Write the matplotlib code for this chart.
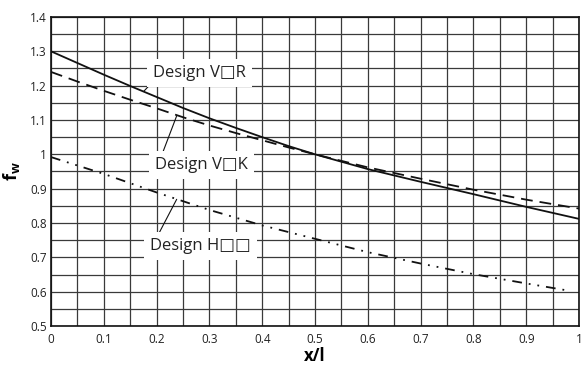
import numpy as np
import matplotlib
matplotlib.use('Agg')
import matplotlib.pyplot as plt

plt.rcParams['font.family'] = ['Open Sans', 'DejaVu Sans']
plt.rcParams['mathtext.fontset'] = 'custom'
plt.rcParams['mathtext.bf'] = 'Open Sans:bold'
plt.rcParams['lines.scale_dashes'] = False

# values (x/l against f_w)
x_vr = [0, 0.05, 0.1, 0.15, 0.2, 0.25, 0.3, 0.35, 0.4, 0.45, 0.5, 0.6, 0.7, 0.8, 0.9, 1.0]
f_vr = [1.300, 1.266, 1.232, 1.199, 1.167, 1.135, 1.105, 1.077, 1.050, 1.024, 1.0,
        0.957, 0.920, 0.884, 0.847, 0.812]

x_vk = [0, 0.05, 0.1, 0.15, 0.2, 0.25, 0.3, 0.35, 0.4, 0.45, 0.5, 0.6, 0.7, 0.8, 0.9, 1.0]
f_vk = [1.240, 1.212, 1.185, 1.159, 1.134, 1.108, 1.084, 1.062, 1.041, 1.020, 1.0,
        0.962, 0.929, 0.897, 0.868, 0.842]

x_h = [0, 0.1, 0.2, 0.3, 0.4, 0.5, 0.6, 0.7, 0.8, 0.9, 0.98]
f_h = [0.992, 0.943, 0.889, 0.838, 0.793, 0.754, 0.715, 0.682, 0.651, 0.624, 0.603]

labels = ['Design V\u25a1R', 'Design V\u25a1K', 'Design H\u25a1\u25a1']
# where the leader touches the curve, and where the label sits
label_xy = [(0.176, 1.184), (0.238, 1.112), (0.238, 0.869)]
label_text_xy = [(0.193, 1.237), (0.197, 0.968), (0.1875, 0.733)]
label_relpos = [(0.03, 0.15), (0.06, 0.95), (0.06, 0.95)]

xticks = np.arange(0, 1.01, 0.1)
xtick_labels = ['0', '0.1', '0.2', '0.3', '0.4', '0.5', '0.6', '0.7', '0.8', '0.9', '1']
yticks = np.arange(0.5, 1.41, 0.1)
ytick_labels = ['0.5', '0.6', '0.7', '0.8', '0.9', '1', '1.1', '1.2', '1.3', '1.4']

fig = plt.figure(figsize=(5.87, 3.67), dpi=100)
ax = fig.add_axes([0.0869, 0.1117, 0.8995, 0.842])

# grid every 0.05 in both directions
ax.set_xticks(np.arange(0, 1.001, 0.05), minor=True)
ax.set_yticks(np.arange(0.5, 1.401, 0.05), minor=True)
ax.grid(True, which='both', color='#3a3a3a', lw=0.9, zorder=0)

ax.plot(x_vr, f_vr, color='#111111', lw=1.3, zorder=3)
ax.plot(x_vk, f_vk, color='#111111', lw=1.3, dashes=(8.5, 5), zorder=3)
ax.plot(x_h, f_h, color='#111111', lw=1.3, dashes=(7, 5, 1.3, 5, 1.3, 5), zorder=3)

for lab, xy, txy, rp in zip(labels, label_xy, label_text_xy, label_relpos):
    ax.annotate(lab, xy=xy, xytext=txy, ha='left', va='center', fontsize=12,
                color='#222222', zorder=5,
                bbox=dict(boxstyle='square,pad=0.35', fc='white', ec='none'),
                arrowprops=dict(arrowstyle='-', color='#111111', lw=0.8,
                                shrinkA=0, shrinkB=0, relpos=rp))

ax.set_xlim(0, 1)
ax.set_ylim(0.5, 1.4)
ax.set_xticks(xticks)
ax.set_xticklabels(xtick_labels)
ax.set_yticks(yticks)
ax.set_yticklabels(ytick_labels)
ax.tick_params(which='both', length=0, labelsize=8.5, colors='#222222')
ax.tick_params(axis='x', pad=5)
ax.tick_params(axis='y', pad=3)

for sp in ax.spines.values():
    sp.set_linewidth(1.2)
    sp.set_color('#111111')

ax.set_xlabel('x/l', fontsize=12, fontweight='bold', labelpad=1)
ax.set_ylabel(r'$\mathbf{f}_{\mathbf{w}}$', fontsize=13, labelpad=6)

fig.savefig('out.png', dpi=100)
